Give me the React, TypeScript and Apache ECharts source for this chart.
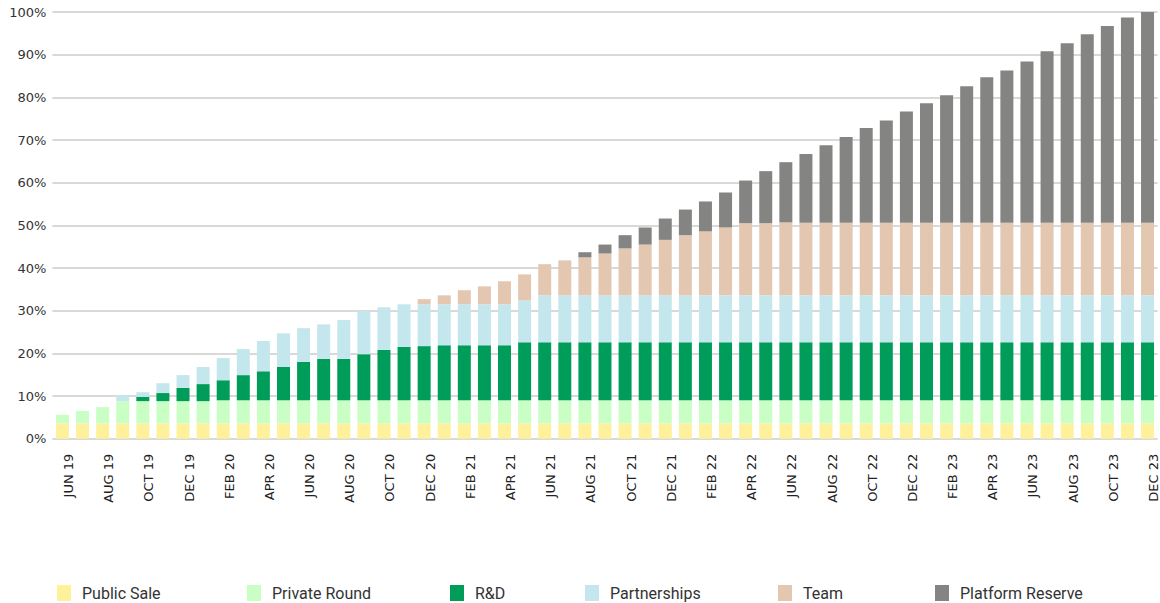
import React, { useEffect, useRef } from "react";
import * as echarts from "echarts";

const months = [
  "JUN 19", "JUL 19", "AUG 19", "SEP 19", "OCT 19", "NOV 19", "DEC 19",
  "JAN 20", "FEB 20", "MAR 20", "APR 20", "MAY 20", "JUN 20", "JUL 20", "AUG 20", "SEP 20", "OCT 20", "NOV 20", "DEC 20",
  "JAN 21", "FEB 21", "MAR 21", "APR 21", "MAY 21", "JUN 21", "JUL 21", "AUG 21", "SEP 21", "OCT 21", "NOV 21", "DEC 21",
  "JAN 22", "FEB 22", "MAR 22", "APR 22", "MAY 22", "JUN 22", "JUL 22", "AUG 22", "SEP 22", "OCT 22", "NOV 22", "DEC 22",
  "JAN 23", "FEB 23", "MAR 23", "APR 23", "MAY 23", "JUN 23", "JUL 23", "AUG 23", "SEP 23", "OCT 23", "NOV 23", "DEC 23",
];

const publicSale = [
  3.6, 3.6, 3.6, 3.6, 3.6, 3.6, 3.6, 3.6, 3.6, 3.6, 3.6, 3.6, 3.6, 3.6, 3.6, 3.6, 3.6, 3.6, 3.6,
  3.6, 3.6, 3.6, 3.6, 3.6, 3.6, 3.6, 3.6, 3.6, 3.6, 3.6, 3.6, 3.6, 3.6, 3.6, 3.6, 3.6, 3.6,
  3.6, 3.6, 3.6, 3.6, 3.6, 3.6, 3.6, 3.6, 3.6, 3.6, 3.6, 3.6, 3.6, 3.6, 3.6, 3.6, 3.6, 3.6,
];

const privateRound = [
  2.0, 2.9, 3.8, 5.2, 5.2, 5.2, 5.2, 5.2, 5.4, 5.4, 5.4, 5.4, 5.4, 5.4, 5.4, 5.4, 5.4, 5.4, 5.4,
  5.4, 5.4, 5.4, 5.4, 5.4, 5.4, 5.4, 5.4, 5.4, 5.4, 5.4, 5.4, 5.4, 5.4, 5.4, 5.4, 5.4, 5.4,
  5.4, 5.4, 5.4, 5.4, 5.4, 5.4, 5.4, 5.4, 5.4, 5.4, 5.4, 5.4, 5.4, 5.4, 5.4, 5.4, 5.4, 5.4,
];

const rnd = [
  0, 0, 0, 0, 1.0, 1.9, 3.1, 4.0, 4.7, 5.9, 6.8, 7.8, 9.0, 9.7, 9.7, 10.8, 11.8, 12.5, 12.7,
  12.9, 12.9, 12.9, 12.9, 13.6, 13.6, 13.6, 13.6, 13.6, 13.6, 13.6, 13.6, 13.6, 13.6, 13.6, 13.6, 13.6, 13.6,
  13.6, 13.6, 13.6, 13.6, 13.6, 13.6, 13.6, 13.6, 13.6, 13.6, 13.6, 13.6, 13.6, 13.6, 13.6, 13.6, 13.6, 13.6,
];

const partnerships = [
  0, 0, 0, 1.3, 1.1, 2.3, 3.0, 4.0, 5.2, 6.1, 7.1, 7.9, 7.9, 8.1, 9.1, 10.1, 10.0, 10.0, 9.8,
  9.6, 9.6, 9.6, 9.6, 9.8, 11.0, 11.0, 11.0, 11.0, 11.0, 11.0, 11.0, 11.0, 11.0, 11.0, 11.0, 11.0, 11.0,
  11.0, 11.0, 11.0, 11.0, 11.0, 11.0, 11.0, 11.0, 11.0, 11.0, 11.0, 11.0, 11.0, 11.0, 11.0, 11.0, 11.0, 11.0,
];

const team = [
  0, 0, 0, 0, 0, 0, 0, 0, 0, 0, 0, 0, 0, 0, 0, 0, 0, 0, 1.2,
  2.1, 3.3, 4.2, 5.4, 6.1, 7.3, 8.2, 8.9, 9.8, 11.0, 11.9, 13.0, 14.1, 15.0, 15.9, 16.9, 16.9, 17.1,
  17.0, 17.0, 17.0, 17.0, 17.0, 17.0, 17.0, 17.0, 17.0, 17.0, 17.0, 17.0, 17.0, 17.0, 17.0, 17.0, 17.0, 17.0,
];

const platformReserve = [
  0, 0, 0, 0, 0, 0, 0, 0, 0, 0, 0, 0, 0, 0, 0, 0, 0, 0, 0,
  0, 0, 0, 0, 0, 0, 0, 1.2, 2.1, 3.1, 4.0, 5.0, 6.0, 7.0, 8.2, 10.0, 12.2, 14.1,
  16.1, 18.2, 20.1, 22.2, 24.0, 26.1, 28.0, 29.9, 32.0, 34.1, 35.7, 37.8, 40.2, 42.1, 44.2, 46.1, 48.1, 49.4,
];

const yTicks = [0, 10, 20, 30, 40, 50, 60, 70, 80, 90, 100];

const seriesDefs = [
  { name: "Public Sale", data: publicSale, color: "#FFF09C" },
  { name: "Private Round", data: privateRound, color: "#C9FFC5" },
  { name: "R&D", data: rnd, color: "#009D5A" },
  { name: "Partnerships", data: partnerships, color: "#C4E7ED" },
  { name: "Team", data: team, color: "#E3C7B1" },
  { name: "Platform Reserve", data: platformReserve, color: "#848482" },
];

const legendLefts = [57, 247, 450, 585, 778, 935];

export default function App() {
  const ref = useRef<HTMLDivElement>(null);

  useEffect(() => {
    document.body.style.margin = "0";
    if (!ref.current) return;
    const chart = echarts.init(ref.current, undefined, { renderer: "svg" });
    chart.setOption({
      animation: false,
      backgroundColor: "#ffffff",
      grid: { left: 52.4, top: 12, width: 1109.4, bottom: 164.3, containLabel: false },
      legend: seriesDefs.map((s, i) => ({
        data: [s.name],
        left: legendLefts[i],
        top: 585,
        padding: 0,
        icon: "rect",
        itemWidth: 14,
        itemHeight: 16,
        selectedMode: false,
        textStyle: {
          fontFamily: "Roboto",
          fontSize: 16,
          color: "#333333",
          padding: [0, 0, 0, 6],
        },
      })),
      xAxis: {
        type: "category",
        data: months,
        axisLine: { show: false },
        axisTick: { show: false },
        axisLabel: {
          interval: 1,
          rotate: 90,
          margin: 15,
          verticalAlign: "top",
          lineHeight: 12,
          fontFamily: "DejaVu Sans",
          fontSize: 13,
          color: "#222222",
        },
      },
      yAxis: {
        type: "value",
        min: yTicks[0],
        max: yTicks[yTicks.length - 1],
        interval: 10,
        axisLine: { show: false },
        axisTick: { show: false },
        axisLabel: {
          formatter: "{value}%",
          margin: 6,
          fontFamily: "DejaVu Sans",
          fontSize: 13,
          color: "#333333",
        },
        splitLine: { lineStyle: { color: "#d9d9d9", width: 2 } },
      },
      series: seriesDefs.map((s) => ({
        name: s.name,
        type: "bar",
        stack: "total",
        barWidth: 13,
        data: s.data,
        itemStyle: { color: s.color },
      })),
    });
    return () => chart.dispose();
  }, []);

  return <div ref={ref} style={{ width: 1160, height: 603 }} />;
}
